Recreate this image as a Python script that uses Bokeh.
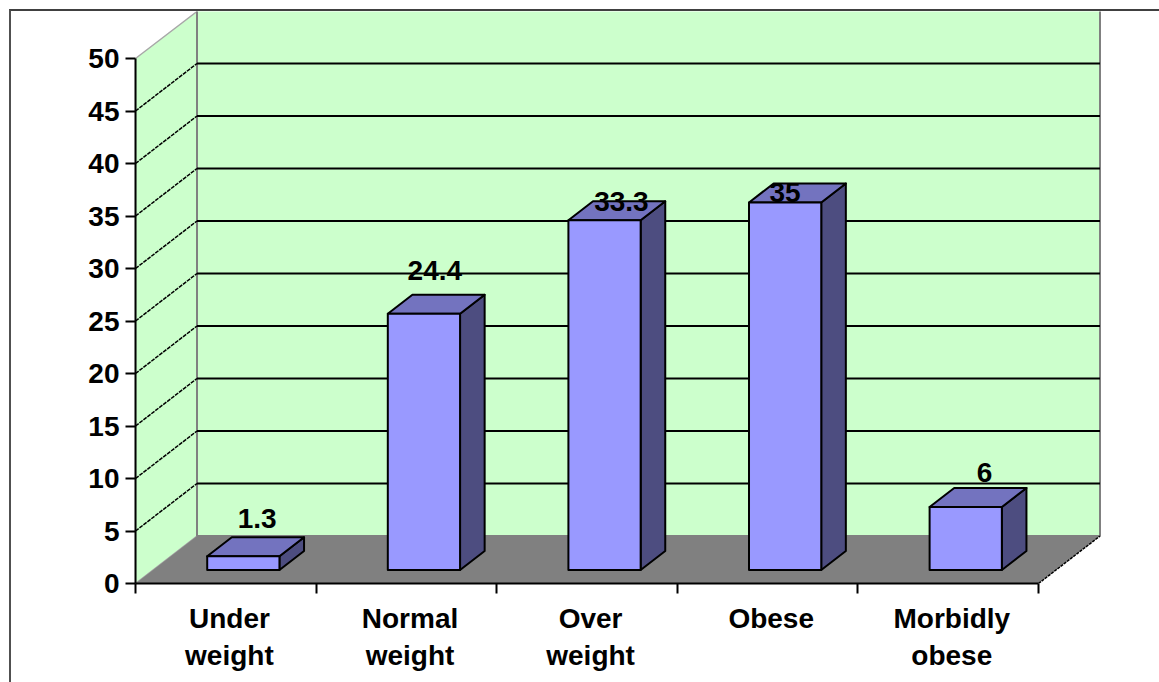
from bokeh.plotting import figure
from bokeh.embed import file_html
from bokeh.resources import INLINE
from bokeh.models import Range1d, LinearAxis, FixedTicker, ColumnDataSource
from bokeh.core.properties import value

categories = ["Under\nweight", "Normal\nweight", "Over\nweight", "Obese", "Morbidly\nobese"]
values = [1.3, 24.4, 33.3, 35, 6]
y_ticks = [0, 5, 10, 15, 20, 25, 30, 35, 40, 45, 50]
bar_labels = ["1.3", "24.4", "33.3", "35", "6"]
label_dx = [50, 47, 53, 36, 55]
label_dy = [38, 43, 19, 10, 34]

# pixels
ORG = 11                  # where the canvas starts on the page (margin + border)
W, H = 1159 - ORG, 682 - ORG
X0, Y0 = 135, 583         # page position of front-floor origin
PX_CAT = 180.6
PX_VAL = 10.5
DX, DY = 61.5, 47.5       # depth of the chart box

frame_w = 1159 - X0
frame_h = Y0 - ORG

def depth_x(d):
    return d * DX / PX_CAT

def depth_y(d):
    return d * DY / PX_VAL

p = figure(width=W, height=H, output_backend="svg", toolbar_location=None,
           x_axis_location=None, y_axis_location=None,
           x_range=Range1d(0, frame_w / PX_CAT), y_range=Range1d(0, frame_h / PX_VAL),
           min_border_left=X0 - ORG, min_border_right=0,
           min_border_top=0, min_border_bottom=682 - Y0,
           frame_width=frame_w, frame_height=frame_h,
           background_fill_color="white", border_fill_color="white",
           outline_line_color=None)
p.margin = (9, 0, 0, 9)
p.styles = {"border-top": "2px solid #404040", "border-left": "2px solid #505050", "box-sizing": "content-box"}
p.xgrid.visible = False
p.ygrid.visible = False

n = len(categories)
wall_top = frame_h / PX_VAL

# side wall, back wall, floor
p.patch([0, depth_x(1), depth_x(1), 0], [0, depth_y(1), wall_top, 50],
        fill_color="#CCFFCC", line_color="#A8A8A8", line_width=1.5)
p.patch([depth_x(1), n + depth_x(1), n + depth_x(1), depth_x(1)],
        [depth_y(1), depth_y(1), wall_top + 1, wall_top + 1],
        fill_color="#CCFFCC", line_color="#808080", line_width=2)
p.patch([0, n, n + depth_x(1), depth_x(1)], [0, 0, depth_y(1), depth_y(1)],
        fill_color="#808080", line_color=None)
p.line([n, n + depth_x(1)], [0, depth_y(1)], line_color="black", line_width=1.5, line_dash="3 1")

# gridlines
for t in y_ticks[1:-1]:
    p.line([0, depth_x(1)], [t, t + depth_y(1)], line_color="black", line_width=1.5, line_dash="4 1")
    p.line([depth_x(1), n + depth_x(1)], [t + depth_y(1), t + depth_y(1)], line_color="black", line_width=2)

# bars
D0, D1 = 0.285, 0.685
B0, B1 = 0.30, 0.70
for i, v in enumerate(values):
    base = depth_y(D0)
    xl, xr = i + B0 + depth_x(D0), i + B1 + depth_x(D0)
    sx, sy = depth_x(D1 - D0), depth_y(D1 - D0)
    style = dict(line_color="black", line_width=2, line_join="round")
    p.patch([xr, xr + sx, xr + sx, xr], [base, base + sy, base + v + sy, base + v], fill_color="#4D4D80", **style)
    p.patch([xl, xr, xr + sx, xl + sx], [base + v, base + v, base + v + sy, base + v + sy], fill_color="#7373BF", **style)
    p.patch([xl, xr, xr, xl], [base, base, base + v, base + v], fill_color="#9999FF", **style)

# data labels
src = ColumnDataSource(dict(x=[i + B0 + depth_x(D0) for i in range(n)],
                            y=[depth_y(D0) + v for v in values],
                            t=bar_labels, dx=label_dx, dy=[-d for d in label_dy]))
p.text("x", "y", text="t", source=src, x_offset="dx", y_offset="dy", text_align="center",
       text_baseline="middle", text_color="black", text_font=value("Liberation Sans"),
       text_font_style="bold", text_font_size="28px")

FONT = "Liberation Sans"
yaxis = LinearAxis(ticker=FixedTicker(ticks=y_ticks), axis_line_color="black", axis_line_width=2,
                   major_tick_line_color="black", major_tick_line_width=2,
                   major_tick_in=0, major_tick_out=10, minor_tick_line_color=None,
                   major_label_text_font=FONT, major_label_text_font_style="bold",
                   major_label_text_font_size="28px", major_label_text_color="black",
                   major_label_standoff=6, bounds=(0, 50))
p.add_layout(yaxis, "left")

xticks = LinearAxis(ticker=FixedTicker(ticks=list(range(n + 1))), axis_line_color="black", axis_line_width=2,
                    major_tick_line_color="black", major_tick_line_width=2,
                    major_tick_in=0, major_tick_out=10, minor_tick_line_color=None,
                    major_label_text_font_size="0px", major_label_text_color=None, bounds=(0, n))
p.add_layout(xticks, "below")

# category labels, on an axis of their own
label_positions = [i + 0.52 for i in range(n)]
xlabels = LinearAxis(ticker=FixedTicker(ticks=label_positions),
                     major_label_overrides={pos: c for pos, c in zip(label_positions, categories)},
                     axis_line_color=None, major_tick_line_color=None, minor_tick_line_color=None,
                     major_label_text_font=FONT, major_label_text_font_style="bold",
                     major_label_text_font_size="28px", major_label_text_color="black",
                     major_label_standoff=3)
p.add_layout(xlabels, "below")

open("out.html", "w").write(file_html(p, INLINE))
